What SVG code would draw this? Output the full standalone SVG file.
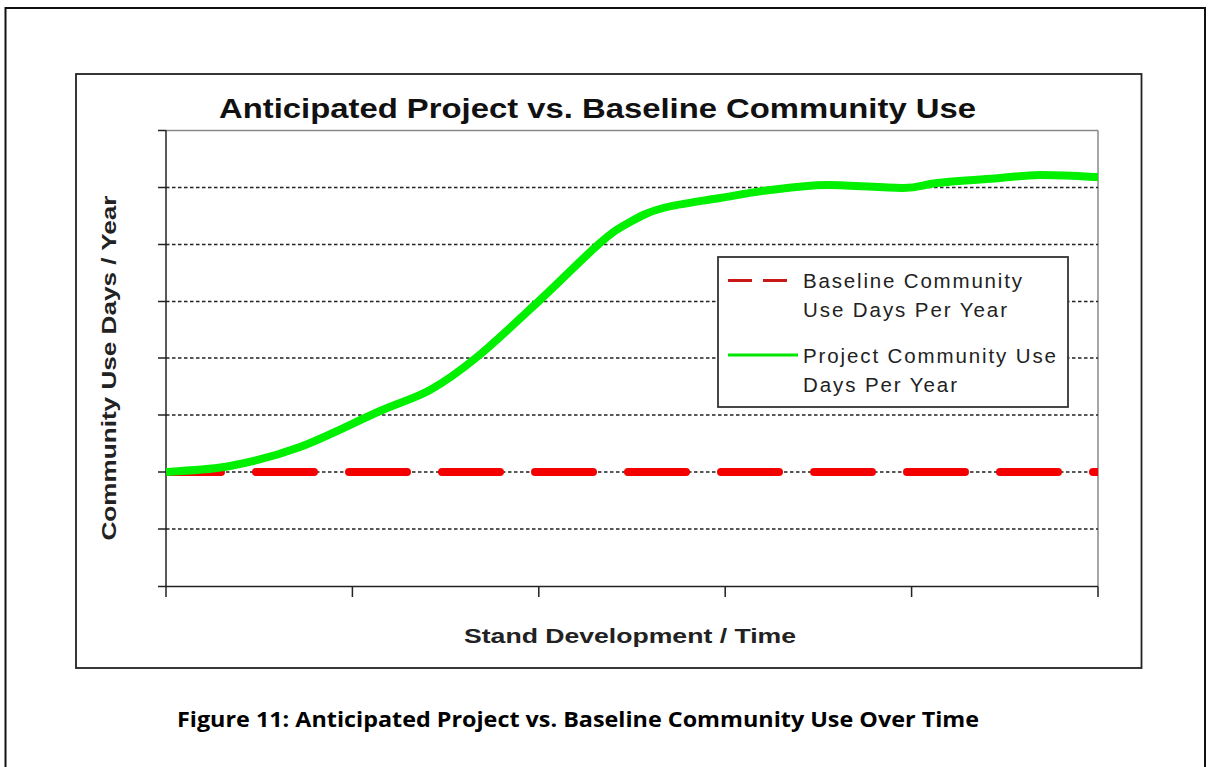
<svg xmlns="http://www.w3.org/2000/svg" width="1208" height="767" viewBox="0 0 1208 767">
<style>
.grid{stroke:#222;stroke-width:1.3;stroke-dasharray:3.5 2.5;fill:none}
.tick{stroke:#222;stroke-width:1.5;fill:none}
.lg{font-family:"Liberation Sans",Arial,sans-serif;font-size:20.5px;fill:#222}
</style>
<defs>
<clipPath id="plot"><rect x="166" y="120" width="932" height="470"/></clipPath>
</defs>
<rect width="1208" height="767" fill="#fff"/>
<path d="M5.5,780 V8 H1205 V780" fill="none" stroke="#111" stroke-width="2"/>
<rect x="76" y="74" width="1065.5" height="594" fill="#fff" stroke="#222" stroke-width="1.8"/>
<text x="219" y="118" textLength="757" lengthAdjust="spacingAndGlyphs" font-family="Liberation Sans,Arial,sans-serif" font-weight="bold" font-size="28.5" fill="#111">Anticipated Project  vs. Baseline Community Use</text>
<g id="axes">
<line x1="166" y1="130.5" x2="1098" y2="130.5" stroke="#888" stroke-width="1.5"/>
<line x1="1098" y1="130.5" x2="1098" y2="586.5" stroke="#888" stroke-width="1.5"/>
<line class="grid" x1="166" y1="187.5" x2="1098" y2="187.5"/>
<line class="grid" x1="166" y1="244.5" x2="1098" y2="244.5"/>
<line class="grid" x1="166" y1="301.5" x2="1098" y2="301.5"/>
<line class="grid" x1="166" y1="358" x2="1098" y2="358"/>
<line class="grid" x1="166" y1="415" x2="1098" y2="415"/>
<line class="grid" x1="166" y1="472" x2="1098" y2="472"/>
<line class="grid" x1="166" y1="529" x2="1098" y2="529"/>
<line class="tick" x1="166" y1="130.5" x2="166" y2="597"/>
<line class="tick" x1="158" y1="586.5" x2="1098" y2="586.5"/>
<path class="tick" d="M158,130.5H166M158,187.5H166M158,244.5H166M158,301.5H166M158,358H166M158,415H166M158,472H166M158,529H166"/>
<path class="tick" d="M352.4,586.5V597M538.8,586.5V597M725.2,586.5V597M911.6,586.5V597M1098,586.5V597"/>
</g>
<g id="series" clip-path="url(#plot)">
<line x1="163" y1="472" x2="1110" y2="472" stroke="#f50000" stroke-width="8" stroke-linecap="round" stroke-dasharray="58 35"/>
<path d="M166,472 C176.7,471 207.7,470.2 230,466 C252.3,461.8 275,456.2 300,447 C325,437.8 358.3,420.5 380,411 C401.7,401.5 413.8,399 430,390 C446.2,381 458.7,372 477,357 C495.3,342 519.5,319 540,300 C560.5,281 585,256 600,243 C615,230 619.5,227.8 630,222 C640.5,216.2 648,212 663,208 C678,204 702.2,201 720,198 C737.8,195 752.2,192.2 770,190 C787.8,187.8 804.8,185.3 827,185 C849.2,184.7 884.7,188.3 903,188 C921.3,187.7 920.8,184.7 937,183 C953.2,181.3 982.8,179.3 1000,178 C1017.2,176.7 1023.7,175.2 1040,175 C1056.3,174.8 1088.3,176.7 1098,177" fill="none" stroke="#00f000" stroke-width="8" stroke-linejoin="round"/>
</g>
<g id="legend">
<rect x="718" y="257" width="350" height="150" fill="#fff" stroke="#333" stroke-width="1.8"/>
<line x1="728" y1="280.5" x2="788" y2="280.5" stroke="#c81818" stroke-width="3" stroke-dasharray="24 11"/>
<line x1="728" y1="355" x2="798" y2="355" stroke="#00e600" stroke-width="3"/>
<text class="lg" x="803" y="288" textLength="219" lengthAdjust="spacing">Baseline  Community</text>
<text class="lg" x="803" y="317" textLength="204" lengthAdjust="spacing">Use Days Per Year</text>
<text class="lg" x="803" y="363" textLength="253" lengthAdjust="spacing">Project Community  Use</text>
<text class="lg" x="803" y="392" textLength="154" lengthAdjust="spacing">Days Per Year</text>
</g>
<text x="116" y="368" transform="rotate(-90 116 368)" text-anchor="middle" textLength="345" lengthAdjust="spacingAndGlyphs" font-family="Liberation Sans,Arial,sans-serif" font-weight="bold" font-size="20" fill="#222">Community Use Days / Year</text>
<text x="630" y="643" text-anchor="middle" textLength="332" lengthAdjust="spacingAndGlyphs" font-family="Liberation Sans,Arial,sans-serif" font-weight="bold" font-size="20" fill="#222">Stand Development / Time</text>
<text x="578" y="727" text-anchor="middle" textLength="802" lengthAdjust="spacingAndGlyphs" font-family="Open Sans,Noto Sans,sans-serif" font-weight="bold" font-size="21.5" fill="#000">Figure 11: Anticipated Project vs. Baseline Community Use Over Time</text>
</svg>
